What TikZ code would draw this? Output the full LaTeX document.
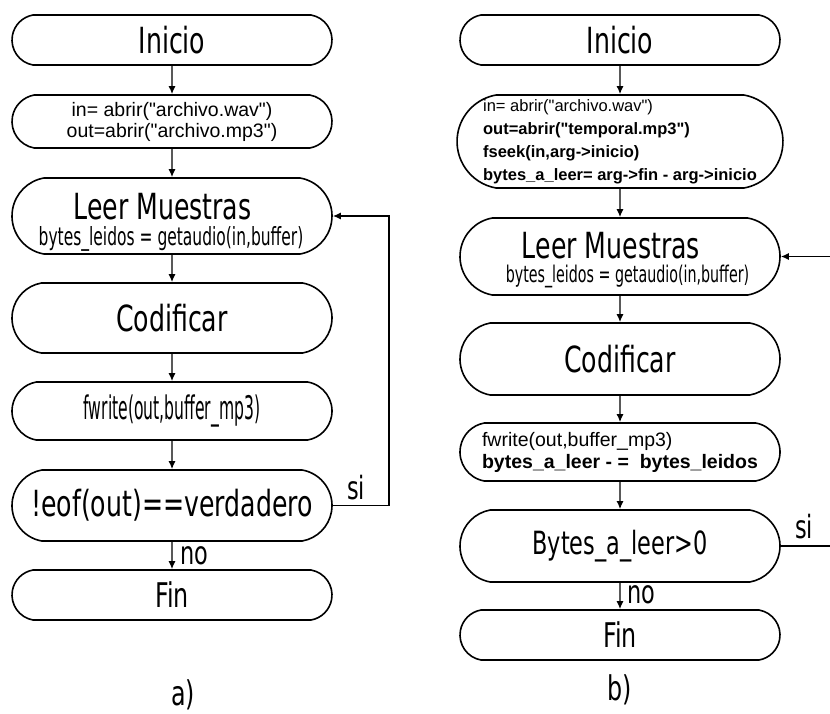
\documentclass[tikz,border=0pt]{standalone}
\usepackage{fontspec}
\setmainfont{Liberation Sans}[Ligatures=TeXOff]
\newfontfamily\condfont[FakeStretch=0.7]{DejaVu Sans}
\newfontfamily\narrowfont[FakeStretch=0.62]{DejaVu Sans}
\newfontfamily\thinfont[FakeStretch=0.48]{DejaVu Sans}
\usetikzlibrary{arrows.meta,shapes.misc}
\begin{document}
\begin{tikzpicture}[x=1pt, y=-1pt, >={Latex[length=8pt,width=7pt]}, line width=1.4pt,
  box/.style={draw, rounded rectangle, rounded rectangle arc length=160, minimum width=320pt, inner sep=0pt, line width=1.6pt},
  big/.style={font=\condfont\fontsize{36}{36}\selectfont},
  lbl/.style={font=\condfont\fontsize{32}{32}\selectfont, inner sep=0pt}]
\useasboundingbox (0,0) rectangle (830,713);
% a)
\node[box, minimum height=50pt, big] (IA) at (172,40) {Inicio};
\node[box, minimum height=53pt, align=center, font=\fontsize{19.5}{21}\selectfont] (AA) at (172,121.5) {in= abrir("archivo.wav")\\out=abrir("archivo.mp3")};
\node[box, minimum height=76pt] (LA) at (172,216) {};
\node[big, anchor=base] (LAa) at (162.5,219) {Leer Muestras};
\node[font=\narrowfont\fontsize{25}{25}\selectfont, anchor=base] (LAb) at (171,245) {bytes\_leidos = getaudio(in,buffer)};
\node[box, minimum height=70pt, big] (CA) at (172,318) {Codificar};
\node[box, minimum height=58pt, font=\thinfont\fontsize{32.5}{33}\selectfont] (FA) at (172,411) {fwrite(out,buffer\_mp3)};
\node[box, minimum height=71pt, big] (EA) at (172,505.5) {!eof(out)==verdadero};
\node[box, minimum height=50pt, font=\condfont\fontsize{34}{34}\selectfont] (NA) at (172,595) {Fin};
\node[lbl, font=\condfont\fontsize{34}{34}\selectfont] (TA) at (183,695) {a)};
\draw[->] (IA) -- (AA);
\draw[->] (AA) -- (LA);
\draw[->] (LA) -- (CA);
\draw[->] (CA) -- (FA);
\draw[->] (FA) -- (EA);
\draw[->] (EA) -- (NA);
\node[lbl] (noA) at (194,556) {no};
\coordinate (RA) at (389,300);
\draw[->] (EA.east) -| (RA) |- (LA.east);
\node[lbl] (siA) at (356,488) {si};
% b)
\node[box, minimum height=50pt, big] (IB) at (620,40) {Inicio};
\node[box, minimum height=93pt, align=left, font=\fontsize{16.5}{23}\selectfont] (AB) at (620,141.5) {in= abrir("archivo.wav")\\\bfseries out=abrir("temporal.mp3")\\\bfseries fseek(in,arg->inicio)\\\bfseries bytes\_a\_leer= arg->fin - arg->inicio};
\node[box, minimum height=77pt] (LB) at (620,256.5) {};
\node[big, anchor=base] (LBa) at (611,258) {Leer Muestras};
\node[font=\narrowfont\fontsize{23}{23}\selectfont, anchor=base] (LBb) at (627.5,282) {bytes\_leidos = getaudio(in,buffer)};
\node[box, minimum height=72pt, big] (CB) at (620,359) {Codificar};
\node[box, minimum height=58pt, align=left, font=\fontsize{19.5}{22}\selectfont] (FB) at (620,452) {fwrite(out,buffer\_mp3)\\\bfseries bytes\_a\_leer - =\ \ bytes\_leidos};
\node[box, minimum height=72pt, font=\condfont\fontsize{32}{32}\selectfont] (BB) at (620,546) {Bytes\_a\_leer>0};
\node[box, minimum height=50pt, font=\condfont\fontsize{34}{34}\selectfont] (NB) at (620,635) {Fin};
\node[lbl, font=\condfont\fontsize{34}{34}\selectfont] (TB) at (620,690) {b)};
\draw[->] (IB) -- (AB);
\draw[->] (AB) -- (LB);
\draw[->] (LB) -- (CB);
\draw[->] (CB) -- (FB);
\draw[->] (FB) -- (BB);
\draw[->] (BB) -- (NB);
\node[lbl] (noB) at (641,595) {no};
\coordinate (RB) at (830,400);
\draw (BB.east) -- (BB.east -| RB);
\draw[->] (LB.east -| RB) -- (LB.east);
\node[lbl] (siB) at (804,527) {si};
\end{tikzpicture}
\end{document}
